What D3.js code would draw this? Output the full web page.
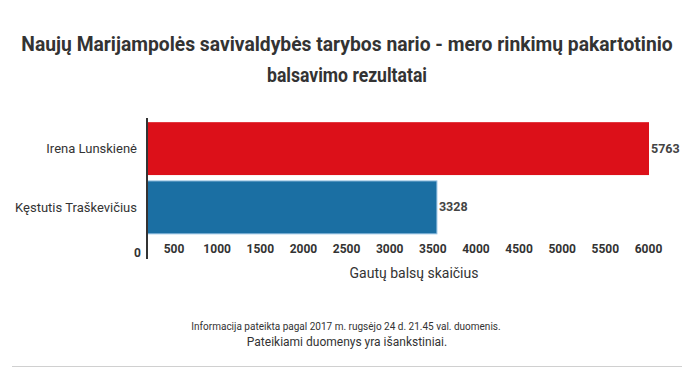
<!DOCTYPE html>
<html>
<head>
  <meta charset="utf-8">
  <title>Marijampolės mero rinkimai</title>
  <script src="https://d3js.org/d3.v7.min.js"></script>
  <style>
    body { margin: 0; background: #fff; font-family: Roboto, sans-serif; }
    text { fill: #333; }
  </style>
</head>
<body>
<script>
  const width = 700;
  const height = 372;

  // data
  const candidates = ["Irena Lunskienė", "Kęstutis Traškevičius"];
  const votes = [5763, 3328];
  const colors = ["#dc1019", "#1b6fa3"];
  const tickValues = [500, 1000, 1500, 2000, 2500, 3000, 3500, 4000, 4500, 5000, 5500, 6000];

  const titleLines = [
    "Naujų Marijampolės savivaldybės tarybos nario - mero rinkimų pakartotinio",
    "balsavimo rezultatai"
  ];
  const axisTitle = "Gautų balsų skaičius";
  const notes = [
    "Informacija pateikta pagal 2017 m. rugsėjo 24 d. 21.45 val. duomenis.",
    "Pateikiami duomenys yra išankstiniai."
  ];

  const svg = d3.select("body")
    .append("svg")
    .attr("width", width)
    .attr("height", height);

  // title, squeezed a bit to look condensed
  titleLines.forEach((t, i) => {
    const txt = svg.append("text")
      .attr("x", 0)
      .attr("y", 0)
      .attr("text-anchor", "middle")
      .style("font-size", "20px")
      .style("font-weight", "bold")
      .style("fill", "#333")
      .text(t);
    const w = txt.node().getComputedTextLength();
    const k = i === 0 ? Math.min(1, 652 / w) : 0.88;
    txt.attr("transform", `translate(347,${51 + i * 31}) scale(${k},1)`);
  });

  const x = d3.scaleLinear()
    .domain([0, d3.max(votes)])
    .range([147, 649]);

  const y = d3.scaleBand()
    .domain(candidates)
    .range([121, 235])
    .paddingInner(0.1)
    .paddingOuter(0.02);

  // bars
  svg.selectAll("rect.bar")
    .data(candidates)
    .join("rect")
    .attr("class", "bar")
    .attr("x", x(0))
    .attr("y", d => y(d))
    .attr("width", (d, i) => x(votes[i]) - x(0))
    .attr("height", y.bandwidth())
    .attr("fill", (d, i) => colors[i])
    .attr("stroke", (d, i) => i === 1 ? "#8fbde0" : "none")
    .attr("stroke-width", 1);

  // value labels
  svg.selectAll("text.val")
    .data(candidates)
    .join("text")
    .attr("class", "val")
    .attr("x", (d, i) => x(votes[i]) + 2)
    .attr("y", d => y(d) + y.bandwidth() / 2 + 4)
    .style("font-size", "12.5px")
    .style("font-weight", "bold")
    .style("fill", "#444")
    .text((d, i) => votes[i]);

  // category labels
  svg.selectAll("text.cat")
    .data(candidates)
    .join("text")
    .attr("class", "cat")
    .attr("x", 137)
    .attr("y", d => y(d) + y.bandwidth() / 2 + 4.5)
    .attr("text-anchor", "end")
    .style("font-size", "13px")
    .style("font-weight", 400)
    .text(d => d);

  // tick labels (evenly spread under the plot, as in the original)
  const xt = d3.scaleLinear()
    .domain([500, 6000])
    .range([173.5, 648]);

  const xAxis = svg.append("g")
    .attr("transform", "translate(0,244)")
    .call(d3.axisBottom(xt).tickValues(tickValues).tickSize(0).tickPadding(0).tickFormat(d3.format("d")));
  xAxis.select(".domain").remove();
  xAxis.selectAll("text")
    .attr("dy", "0.71em")
    .style("font-size", "12px")
    .style("font-weight", "bold")
    .style("font-family", "Roboto, sans-serif")
    .style("fill", "#333");

  svg.append("text")
    .attr("x", x(0) - 6)
    .attr("y", 256.5)
    .attr("text-anchor", "end")
    .style("font-size", "12px")
    .style("font-weight", "bold")
    .text("0");

  // vertical axis line
  svg.append("line")
    .attr("x1", x(0)).attr("x2", x(0))
    .attr("y1", 118).attr("y2", 259)
    .attr("stroke", "#333")
    .attr("stroke-width", 2);

  svg.append("text")
    .attr("x", 414)
    .attr("y", 278)
    .attr("text-anchor", "middle")
    .style("font-size", "14px")
    .text(axisTitle);

  // notes
  svg.append("text")
    .attr("x", 346)
    .attr("y", 330)
    .attr("text-anchor", "middle")
    .style("font-size", "10px")
    .text(notes[0]);
  svg.append("text")
    .attr("x", 347)
    .attr("y", 346)
    .attr("text-anchor", "middle")
    .style("font-size", "12px")
    .text(notes[1]);

  svg.append("line")
    .attr("x1", 12).attr("x2", 682)
    .attr("y1", 366.5).attr("y2", 366.5)
    .attr("stroke", "#d0d0d0")
    .attr("stroke-width", 1);
</script>
</body>
</html>
